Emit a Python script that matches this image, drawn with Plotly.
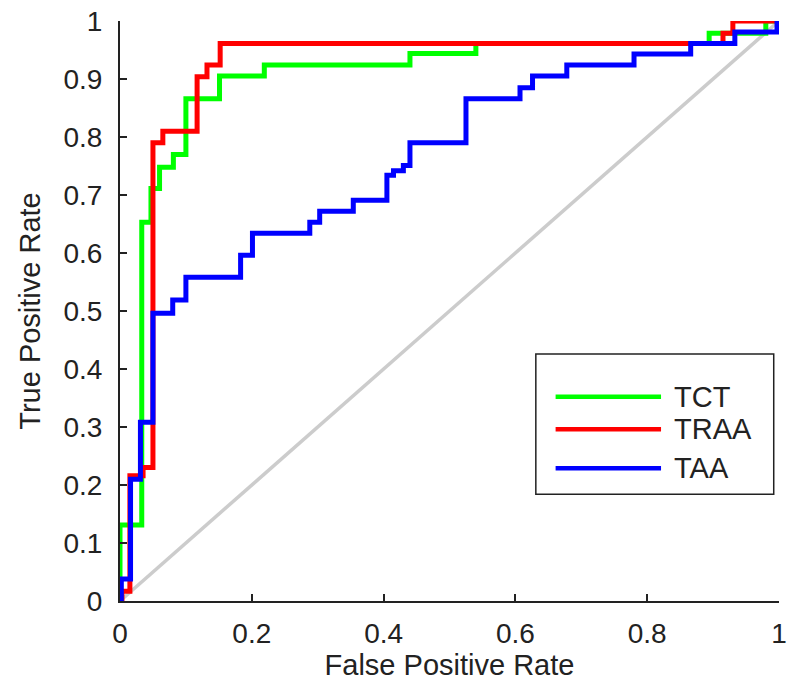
import plotly.graph_objects as go

# ---- data (ROC curve vertices: false positive rate, true positive rate) ----
series_names = ["TCT", "TRAA", "TAA"]
series_colors = ["#00ff00", "#ff0000", "#0000ff"]

tct_fpr = [0, 0.0, 0.033, 0.047, 0.06, 0.081, 0.10, 0.151, 0.219, 0.44, 0.54, 0.894, 0.98, 1.0]
tct_tpr = [0, 0.131, 0.653, 0.711, 0.748, 0.770, 0.866, 0.905, 0.924, 0.944, 0.961, 0.979, 1.0, 1.0]

traa_fpr = [0, 0.003, 0.015, 0.035, 0.05, 0.065, 0.117, 0.132, 0.152, 0.915, 0.93, 1.0]
traa_tpr = [0, 0.017, 0.216, 0.230, 0.790, 0.810, 0.904, 0.924, 0.961, 0.979, 1.0, 1.0]

taa_fpr = [0, 0.002, 0.016, 0.031, 0.05, 0.08, 0.10, 0.183, 0.201, 0.288, 0.303, 0.354,
           0.405, 0.415, 0.43, 0.44, 0.525, 0.607, 0.626, 0.678, 0.78, 0.866, 0.933, 0.997]
taa_tpr = [0, 0.038, 0.210, 0.308, 0.496, 0.519, 0.558, 0.596, 0.634, 0.653, 0.672, 0.691,
           0.734, 0.742, 0.751, 0.790, 0.866, 0.885, 0.905, 0.924, 0.943, 0.961, 0.981, 1.0]

diag_x = [0, 1]
diag_y = [0, 1]

x_ticks = [0, 0.2, 0.4, 0.6, 0.8, 1]
x_tick_text = ["0", "0.2", "0.4", "0.6", "0.8", "1"]
y_ticks = [0, 0.1, 0.2, 0.3, 0.4, 0.5, 0.6, 0.7, 0.8, 0.9, 1]
y_tick_text = ["0", "0.1", "0.2", "0.3", "0.4", "0.5", "0.6", "0.7", "0.8", "0.9", "1"]

FONT = "Liberation Sans, Arial, sans-serif"
TXT = "#222222"

fig = go.Figure()
fig.add_trace(go.Scatter(x=diag_x, y=diag_y, mode="lines",
                         line=dict(color="#cccccc", width=3.5), showlegend=False, hoverinfo="skip"))

curves = [(tct_fpr, tct_tpr), (traa_fpr, traa_tpr), (taa_fpr, taa_tpr)]
for (fx, ty), name, col in zip(curves, series_names, series_colors):
    fig.add_trace(go.Scatter(x=fx, y=ty, mode="lines", name=name,
                             line=dict(color=col, width=5, shape="hv"), showlegend=False))

# ---- custom legend (box, sample lines, labels) ----
shapes = [dict(type="rect", xref="paper", yref="paper", x0=0.631, x1=0.992, y0=0.184, y1=0.426,
               line=dict(color="#222222", width=1.5), fillcolor="white", layer="above")]
leg_y = [0.352, 0.296, 0.229]
annotations = []
for name, col, ly in zip(series_names, series_colors, leg_y):
    shapes.append(dict(type="line", xref="paper", yref="paper", x0=0.661, x1=0.821, y0=ly, y1=ly,
                       line=dict(color=col, width=4.5), layer="above"))
    annotations.append(dict(xref="paper", yref="paper", x=0.837, y=ly, text=name, showarrow=False,
                            xanchor="left", yanchor="middle", font=dict(family=FONT, size=29, color=TXT)))

fig.update_layout(
    width=789, height=681,
    margin=dict(l=120, r=10, t=21, b=80),
    paper_bgcolor="white", plot_bgcolor="white",
    font=dict(family=FONT, size=28, color=TXT),
    shapes=shapes, annotations=annotations,
    showlegend=False,
    xaxis=dict(range=[0, 1], tickvals=x_ticks, ticktext=x_tick_text, ticks="inside", ticklen=7,
               tickwidth=1.5, tickcolor="#222222", showline=True, linecolor="#222222", linewidth=2,
               showgrid=False, zeroline=False, mirror=False, ticklabelstandoff=6,
               ticklabeloverflow="allow", automargin=False,
               tickfont=dict(family=FONT, size=28, color=TXT),
               title=dict(text="False Positive Rate", font=dict(family=FONT, size=29, color=TXT), standoff=8)),
    yaxis=dict(range=[0, 1], tickvals=y_ticks, ticktext=y_tick_text, ticks="inside", ticklen=7,
               tickwidth=1.5, tickcolor="#222222", showline=True, linecolor="#222222", linewidth=2,
               showgrid=False, zeroline=False, mirror=False, ticklabelstandoff=10, automargin=False,
               tickfont=dict(family=FONT, size=28, color=TXT),
               title=dict(text="True Positive Rate", font=dict(family=FONT, size=29, color=TXT), standoff=14)),
)

fig.write_html("out.html")
